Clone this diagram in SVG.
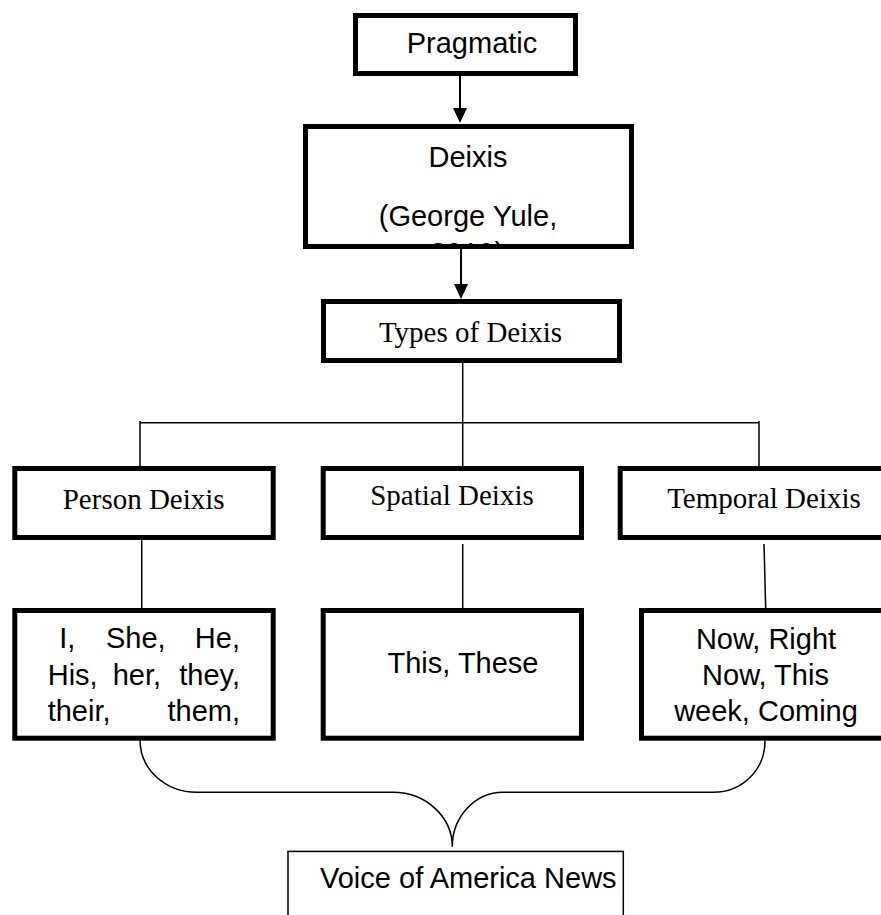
<svg xmlns="http://www.w3.org/2000/svg" width="881" height="915" viewBox="0 0 881 915">
<style>
.box{fill:#fff;stroke:#000;stroke-width:5}
.thin{fill:#fff;stroke:#000;stroke-width:1.5}
.sans{font-family:"Liberation Sans",Arial,sans-serif;font-size:29px;fill:#000}
.serif{font-family:"Liberation Serif","Times New Roman",serif;font-size:29px;fill:#000}
.mid{text-anchor:middle}
.end{text-anchor:end}
.ln{fill:none;stroke:#000;stroke-width:1.5}
.arr{fill:none;stroke:#000;stroke-width:2}
</style>
<defs>
<marker id="ah" viewBox="0 0 14 15" refX="7" refY="15" markerWidth="14" markerHeight="15" markerUnits="userSpaceOnUse" orient="auto-start-reverse">
<path d="M0,0 L14,0 L7,15 Z" fill="#000"/>
</marker>
<clipPath id="dclip"><rect x="305" y="126" width="327" height="120"/></clipPath>
</defs>
<rect width="881" height="915" fill="#fff"/>
<g id="connectors">
<line class="arr" x1="460" y1="76" x2="460" y2="108"/>
<path d="M453,108 L467,108 L460,123 Z" fill="#000"/>
<line class="arr" x1="461" y1="249" x2="461" y2="284"/>
<path d="M454,284 L468,284 L461,299 Z" fill="#000"/>
<line class="ln" x1="462.7" y1="363" x2="462.7" y2="470"/>
<line class="ln" x1="140" y1="422.7" x2="759" y2="422.7"/>
<line class="ln" x1="140" y1="421" x2="140" y2="467"/>
<line class="ln" x1="759" y1="421" x2="759" y2="467"/>
<line class="ln" x1="141.7" y1="540" x2="141.7" y2="609"/>
<line class="ln" x1="462.7" y1="544" x2="462.7" y2="609"/>
<line class="ln" x1="764" y1="544" x2="765.7" y2="609"/>
<path class="ln" d="M140,740 C140,769 165,792.3 197,792.3 L393,792.3 C426,792.3 452.3,817 452.3,846.7 C452.3,817 475,792.3 503,792.3 L713.3,792.3 C742,792.3 765,770 765,741"/>
</g>
<g id="pragmatic">
<rect class="box" x="355.5" y="15.5" width="220" height="58"/>
<text class="sans mid" x="472" y="53">Pragmatic</text>
</g>
<g id="deixis">
<rect class="box" x="305.5" y="126.5" width="326" height="120"/>
<g clip-path="url(#dclip)">
<text class="sans mid" x="468" y="167">Deixis</text>
<text class="sans mid" x="468" y="226">(George Yule,</text>
<text class="sans mid" x="467" y="263">2010)</text>
</g>
<rect x="305.5" y="126.5" width="326" height="120" fill="none" stroke="#000" stroke-width="5"/>
</g>
<g id="types">
<rect class="box" x="323.5" y="301.5" width="296" height="59"/>
<text class="serif mid" x="470.5" y="342">Types of Deixis</text>
</g>
<g id="person">
<rect class="box" x="14.8" y="468.5" width="258.4" height="69"/>
<text class="serif mid" x="143.7" y="509">Person Deixis</text>
</g>
<g id="spatial">
<rect class="box" x="323.2" y="468.5" width="258.3" height="69"/>
<text class="serif mid" x="452" y="505">Spatial Deixis</text>
</g>
<g id="temporal">
<rect class="box" x="620.2" y="468.5" width="300" height="69"/>
<text class="serif mid" x="764" y="508">Temporal Deixis</text>
</g>
<g id="person-examples">
<rect class="box" x="14.8" y="610.5" width="258.4" height="127.7"/>
<text class="sans" x="59.3" y="648.3">I,</text>
<text class="sans" x="106" y="648.3">She,</text>
<text class="sans end" x="240" y="648.3">He,</text>
<text class="sans" x="47.7" y="685">His,</text>
<text class="sans" x="112.7" y="685">her,</text>
<text class="sans end" x="240" y="685">they,</text>
<text class="sans" x="47.7" y="720.7">their,</text>
<text class="sans end" x="240" y="720.7">them,</text>
</g>
<g id="spatial-examples">
<rect class="box" x="323.2" y="610.5" width="258.3" height="127.7"/>
<text class="sans mid" x="463" y="672.7">This, These</text>
</g>
<g id="temporal-examples">
<rect class="box" x="641.5" y="610.5" width="300" height="127.7"/>
<text class="sans mid" x="766" y="649.3">Now, Right</text>
<text class="sans mid" x="765.5" y="685">Now, This</text>
<text class="sans mid" x="766" y="720.7">week, Coming</text>
</g>
<g id="voa">
<rect class="thin" x="288" y="851.4" width="335.3" height="100"/>
<text class="sans" x="320" y="888.3">Voice of America News</text>
</g>
</svg>
